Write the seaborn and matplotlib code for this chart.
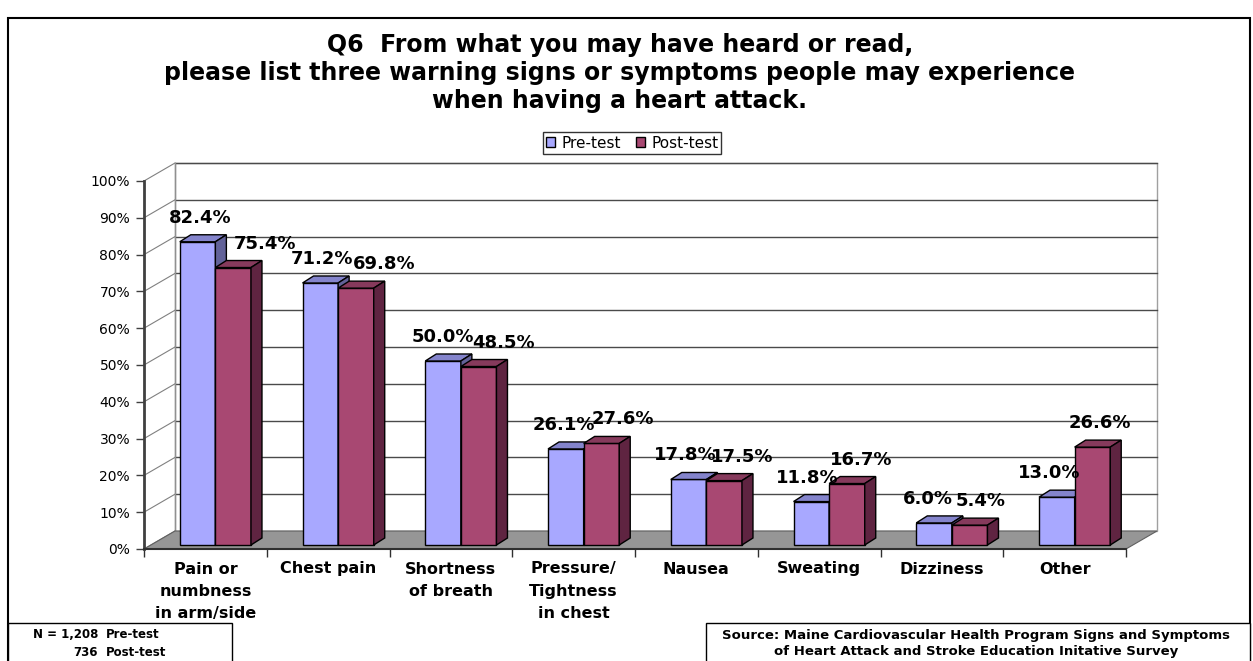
import matplotlib
matplotlib.use('Agg')
import matplotlib.pyplot as plt
import seaborn as sns
import pandas as pd
from matplotlib.patches import Polygon, Rectangle, Patch

# --- data ---
categories = ['Pain or\nnumbness\nin arm/side', 'Chest pain', 'Shortness\nof breath',
              'Pressure/\nTightness\nin chest', 'Nausea', 'Sweating', 'Dizziness', 'Other']
pre_test = [82.4, 71.2, 50.0, 26.1, 17.8, 11.8, 6.0, 13.0]
post_test = [75.4, 69.8, 48.5, 27.6, 17.5, 16.7, 5.4, 26.6]
series = ['Pre-test', 'Post-test']
y_ticks = list(range(0, 101, 10))

df = pd.DataFrame({
    'category': categories * 2,
    'series': [series[0]] * len(categories) + [series[1]] * len(categories),
    'value': pre_test + post_test,
})

# colours (front, top, side) for each series
front_cols = ['#A8A8FF', '#A84872']
top_cols = ['#8484CC', '#863A5C']
side_cols = ['#626299', '#5F2441']

W, H = 1253, 661
fig = plt.figure(figsize=(W / 100, H / 100), dpi=100)

def fx(px):
    return px / W

def fy(py):
    return 1 - py / H

# front plane of the 3D box in pixels
ax_l, ax_r, ax_t, ax_b = 144, 1126, 181, 549
ax = fig.add_axes([fx(ax_l), fy(ax_b), (ax_r - ax_l) / W, (ax_b - ax_t) / H])
ax.set_xlim(-0.5, len(categories) - 0.5)
ax.set_ylim(0, 100)
sx = len(categories) / (ax_r - ax_l)   # data units per pixel
sy = 100 / (ax_b - ax_t)

x0, x1 = -0.5, len(categories) - 0.5
bx, by = 31 * sx, 18 * sy          # depth of the back wall
off_x, off_y = 10 * sx, 4 * sy     # bars sit a little behind the front edge
dx, dy = 11 * sx, 7 * sy           # bar depth

sns.barplot(data=df, x='category', y='value', hue='series', palette=front_cols,
            width=0.58, saturation=1, edgecolor='black', linewidth=1,
            legend=False, ax=ax)

# back wall, side wall lines and floor
ax.add_patch(Polygon([(x0 + bx, by), (x1 + bx, by), (x1 + bx, 100 + by), (x0 + bx, 100 + by)],
                     closed=True, facecolor='white', edgecolor='#A0A0A0', lw=1,
                     zorder=0.5, clip_on=False))
for v in y_ticks[1:]:
    ax.plot([x0 + bx, x1 + bx], [v + by, v + by], color='#4A4A4A', lw=1, zorder=0.6, clip_on=False)
for v in y_ticks:
    ax.plot([x0, x0 + bx], [v, v + by], color='#808080', lw=0.8, zorder=0.6, clip_on=False)
ax.plot([x0 + bx, x0 + bx], [by, 100 + by], color='#909090', lw=1, zorder=0.6, clip_on=False)
ax.add_patch(Polygon([(x0, 0), (x1, 0), (x1 + bx, by), (x0 + bx, by)], closed=True,
                     facecolor='#969696', edgecolor='#606060', lw=0.8, zorder=0.7, clip_on=False))

# give the seaborn bars their 3D look
for si, cont in enumerate(ax.containers):
    for ci, bar in enumerate(cont):
        x = bar.get_x() + off_x
        w = bar.get_width()
        h = bar.get_height()
        z = 3 + ci * 0.1 + si * 0.05
        bar.set_x(x)
        bar.set_y(off_y)
        bar.set_zorder(z)
        bar.set_clip_on(False)
        top = off_y + h
        ax.add_patch(Polygon([(x, top), (x + w, top), (x + w + dx, top + dy), (x + dx, top + dy)],
                             closed=True, facecolor=top_cols[si], edgecolor='black', lw=1,
                             zorder=z, clip_on=False))
        ax.add_patch(Polygon([(x + w, off_y), (x + w + dx, off_y + dy), (x + w + dx, top + dy), (x + w, top)],
                             closed=True, facecolor=side_cols[si], edgecolor='black', lw=1,
                             zorder=z, clip_on=False))
        # label drift to the left across the chart, as in the original
        lab_dx = (3 - 1.5 * ci) if si == 0 else (32 - 3.5 * ci)
        ax.text(x + w / 2 + lab_dx * sx, top + 24 * sy, f'{h:.1f}%', ha='center', va='center',
                fontsize=13, fontweight='bold', zorder=10, clip_on=False)

# axes styling
ax.set_xlabel('')
ax.set_ylabel('')
ax.set_facecolor('none')
ax.grid(False)
for s in ['top', 'right']:
    ax.spines[s].set_visible(False)
ax.spines['left'].set_color('#404040')
ax.spines['left'].set_linewidth(2)
ax.spines['bottom'].set_color('#303030')
ax.spines['bottom'].set_linewidth(1.5)
ax.spines['left'].set_zorder(20)
ax.spines['bottom'].set_zorder(20)

ax.set_yticks(y_ticks)
ax.set_yticklabels([f'{v}%' for v in y_ticks])
ax.tick_params(axis='y', direction='out', length=6, width=1, color='#404040', labelsize=10, pad=4)
ax.set_xticks(range(len(categories)))
ax.set_xticklabels(categories, fontsize=11.5, fontweight='bold', linespacing=1.6)
ax.set_xticks([i - 0.5 for i in range(len(categories) + 1)], minor=True)
ax.tick_params(axis='x', which='major', length=0, pad=9)
ax.tick_params(axis='x', which='minor', direction='out', length=6, width=1, color='#303030')

# title
fig.text(fx(620), fy(73), 'Q6  From what you may have heard or read,\n'
         'please list three warning signs or symptoms people may experience\n'
         'when having a heart attack.', ha='center', va='center', fontsize=17,
         fontweight='bold', linespacing=1.22)

# legend
handles = [Patch(facecolor=front_cols[i], edgecolor='black', lw=1) for i in range(2)]
leg = fig.legend(handles, series, loc='center', bbox_to_anchor=(fx(632), fy(143)), ncol=2,
                 frameon=True, fancybox=False, edgecolor='black', fontsize=11,
                 handlelength=0.6, handleheight=0.6, handletextpad=0.4, columnspacing=1.0,
                 borderpad=0.2, borderaxespad=0)
leg.get_frame().set_linewidth(1)

# outer frame and footnote boxes
fig.add_artist(Rectangle((fx(8), -0.02), (1250 - 8) / W, fy(18) + 0.02, transform=fig.transFigure,
                         fill=False, edgecolor='black', lw=1.5))
fig.add_artist(Rectangle((fx(8), -0.02), (232 - 8) / W, fy(623) + 0.02, transform=fig.transFigure,
                         facecolor='white', edgecolor='black', lw=1))
fig.add_artist(Rectangle((fx(706), -0.02), (1250 - 706) / W, fy(623) + 0.02, transform=fig.transFigure,
                         facecolor='white', edgecolor='black', lw=1))
fig.text(fx(98), fy(634), 'N = 1,208', ha='right', va='center', fontsize=8.5, fontweight='bold')
fig.text(fx(98), fy(652), '736', ha='right', va='center', fontsize=8.5, fontweight='bold')
fig.text(fx(106), fy(634), 'Pre-test', ha='left', va='center', fontsize=8.5, fontweight='bold')
fig.text(fx(106), fy(652), 'Post-test', ha='left', va='center', fontsize=8.5, fontweight='bold')
fig.text(fx(976), fy(643), 'Source: Maine Cardiovascular Health Program Signs and Symptoms\n'
         'of Heart Attack and Stroke Education Initative Survey', ha='center', va='center',
         fontsize=9.5, fontweight='bold', linespacing=1.3)

fig.savefig('out.png', dpi=100)
